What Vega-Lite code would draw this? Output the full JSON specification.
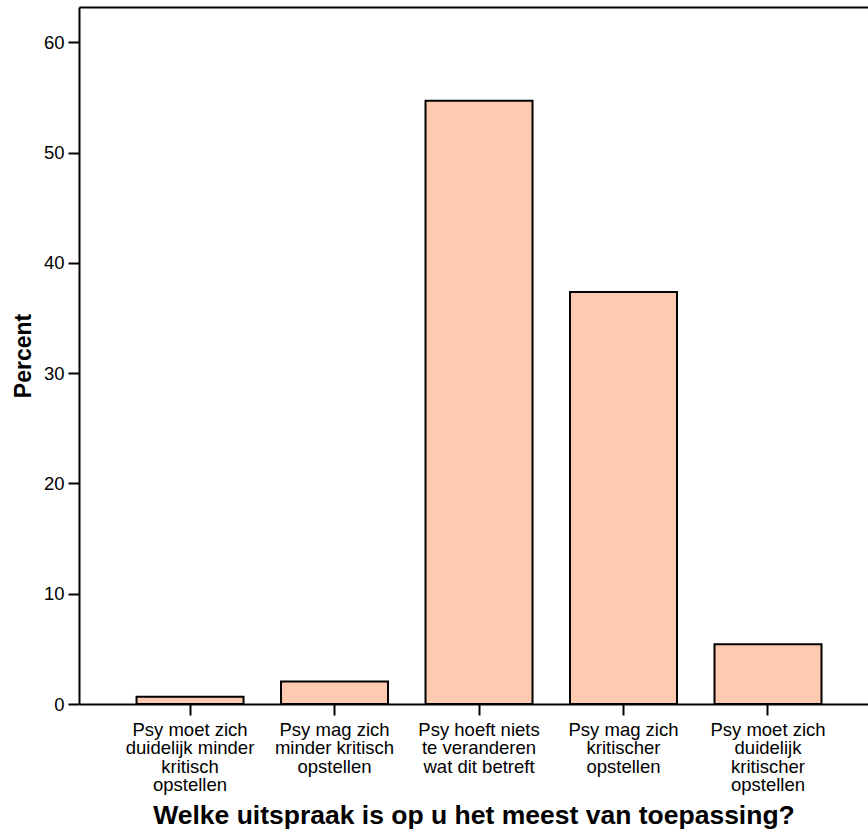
{
  "$schema": "https://vega.github.io/schema/vega-lite/v6.json",
  "autosize": "none",
  "width": 789,
  "height": 697,
  "padding": {"left": 79, "top": 7, "right": 0, "bottom": 128},
  "background": "white",
  "config": {
    "view": {"stroke": null},
    "font": "Liberation Sans",
    "axis": {"grid": false, "domainColor": "black", "domainWidth": 2, "tickColor": "black", "tickWidth": 2, "tickSize": 11, "labelColor": "black", "titleColor": "black", "labelFont": "Liberation Sans", "titleFont": "Liberation Sans"}
  },
  "data": {"values": [
    {"category": "Psy moet zich\nduidelijk minder\nkritisch\nopstellen", "order": 1, "percent": 0.65},
    {"category": "Psy mag zich\nminder kritisch\nopstellen", "order": 2, "percent": 2.03},
    {"category": "Psy hoeft niets\nte veranderen\nwat dit betreft", "order": 3, "percent": 54.7},
    {"category": "Psy mag zich\nkritischer\nopstellen", "order": 4, "percent": 37.35},
    {"category": "Psy moet zich\nduidelijk\nkritischer\nopstellen", "order": 5, "percent": 5.41}
  ]},
  "encoding": {
    "x": {"field": "category", "type": "nominal", "sort": {"field": "order"},
      "scale": {"paddingInner": 0.2595, "paddingOuter": 0.36, "align": 0.553}},
    "y": {"field": "percent", "type": "quantitative", "scale": {"domain": [0, 63.2], "nice": false, "zero": true},
      "axis": {"title": "Percent", "values": [0, 10, 20, 30, 40, 50, 60], "labelFontSize": 18.5, "labelPadding": 4, "titleFontSize": 23, "titleFontWeight": "bold", "titlePadding": 8}}
  },
  "layer": [
    {
      "mark": {"type": "bar", "fill": "#ffcbb0", "stroke": "black", "strokeWidth": 2},
      "encoding": {
        "x": {"field": "category", "type": "nominal", "sort": {"field": "order"},
          "axis": {"orient": "bottom", "labelAngle": 0, "labelFontSize": 18.5, "labelLineHeight": 18.6, "labelPadding": 5, "labelExpr": "split(datum.label, '\\n')", "title": "Welke uitspraak is op u het meest van toepassing?", "titleFontSize": 26.5, "titleFontWeight": "bold", "titlePadding": 8, "labelLimit": 0}}
      }
    },
    {
      "mark": {"type": "bar", "opacity": 0},
      "encoding": {
        "x": {"field": "category", "type": "nominal", "sort": {"field": "order"},
          "axis": {"orient": "top", "labels": false, "ticks": false, "title": null, "domain": true}}
      }
    }
  ],
  "resolve": {"axis": {"x": "independent"}}
}
